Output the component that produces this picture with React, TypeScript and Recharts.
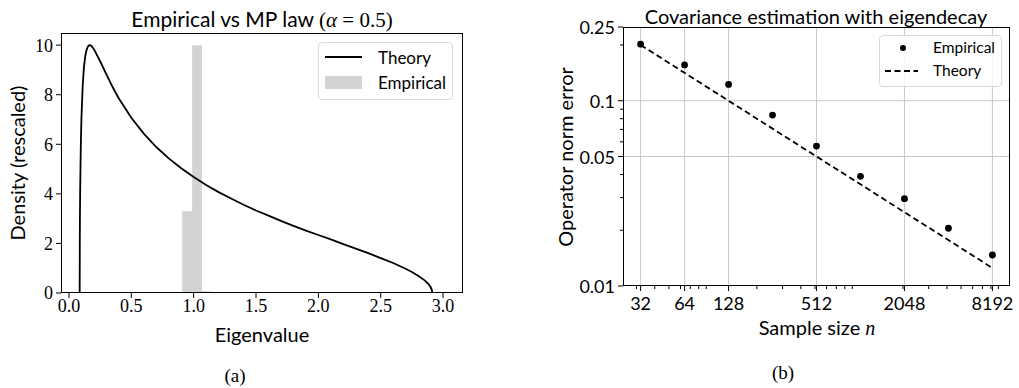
import React from 'react';
import { ComposedChart, Line, Area, XAxis, YAxis, ReferenceLine } from 'recharts';

// ---------- Panel (a): Empirical vs MP law ----------
const eigenvalues = [
  0.0858, 0.087, 0.088, 0.09, 0.095, 0.1, 0.11, 0.12, 0.13, 0.14, 0.15, 0.16, 0.17, 0.18, 0.2,
  0.25, 0.3, 0.35, 0.4, 0.5, 0.6, 0.7, 0.8, 0.9, 1.0, 1.1, 1.2, 1.3, 1.4, 1.5, 1.6, 1.7,
  1.8, 1.9, 2.0, 2.1, 2.2, 2.3, 2.4, 2.5, 2.6, 2.7, 2.75, 2.8, 2.85, 2.88, 2.9, 2.91, 2.914,
];
const densityTheory = [
  0, 2.37, 3.17, 4.28, 5.99, 7.07, 8.37, 9.11, 9.54, 9.79, 9.93, 9.99, 10.0, 9.97, 9.84,
  9.35, 8.82, 8.31, 7.85, 7.07, 6.43, 5.89, 5.43, 5.03, 4.68, 4.36, 4.07, 3.81, 3.56, 3.33, 3.12, 2.91,
  2.71, 2.52, 2.34, 2.16, 1.97, 1.79, 1.61, 1.41, 1.21, 0.98, 0.85, 0.7, 0.52, 0.38, 0.24, 0.13, 0,
];
const histEdges = [0.908, 0.988, 1.066, 1.14];
const histDensity = [3.3, 10.0, 0.07];
const xTicksA = [0, 0.5, 1, 1.5, 2, 2.5, 3];
const yTicksA = [0, 2, 4, 6, 8, 10];

// ---------- Panel (b): Covariance estimation ----------
const sampleSizes = [32, 64, 128, 256, 512, 1024, 2048, 4096, 8192];
const empiricalError = [0.202, 0.156, 0.1224, 0.0837, 0.0569, 0.0391, 0.0296, 0.0205, 0.0147];
const theoryError = [0.2, 0.1414, 0.1, 0.0707, 0.05, 0.0354, 0.025, 0.0177, 0.0125];
const xMajorB = [32, 64, 128, 512, 2048, 8192];
const xMinorB = [30, 40, 50, 60, 70, 80, 90, 200, 300, 400, 500, 600, 700, 800, 900, 2000, 3000, 4000, 5000, 6000, 7000, 8000, 9000];
const yMajorB = [0.01, 0.05, 0.1, 0.25];
const yMinorB = [0.02, 0.03, 0.04, 0.06, 0.07, 0.08, 0.09, 0.2];

const theoryDataA = eigenvalues.map((x, i) => ({ x, y: densityTheory[i] }));
const histDataA = [
  ...histDensity.map((h, i) => ({ x: histEdges[i], h })),
  { x: histEdges[histEdges.length - 1], h: histDensity[histDensity.length - 1] },
];
const dataB = sampleSizes.map((n, i) => ({ n, emp: empiricalError[i], theory: theoryError[i] }));

const SANS = 'Lato, "Liberation Sans", sans-serif';
const SERIF = '"Liberation Serif", "DejaVu Serif", serif';

const abs = (left: number, top: number, extra: React.CSSProperties = {}): React.CSSProperties => ({
  position: 'absolute',
  left,
  top,
  whiteSpace: 'nowrap',
  lineHeight: 1,
  ...extra,
});

const centered = (x: number, y: number, extra: React.CSSProperties = {}): React.CSSProperties =>
  abs(x, y, { transform: 'translate(-50%, -50%)', ...extra });

const XTickB = (props: any) => {
  const { x, y, payload } = props;
  const major = xMajorB.includes(payload.value);
  return (
    <g>
      <line x1={x} x2={x} y1={y} y2={y + (major ? 5 : 3)} stroke="#000" strokeWidth={1} />
      {major && (
        <text x={x} y={y + 17} textAnchor="middle" dominantBaseline="central" fill="#000" fontSize={18} fontFamily={SANS}>
          {payload.value}
        </text>
      )}
    </g>
  );
};

const YTickB = (props: any) => {
  const { x, y, payload } = props;
  const major = yMajorB.includes(payload.value);
  return (
    <g>
      <line x1={x - (major ? 5 : 3)} x2={x} y1={y} y2={y} stroke="#000" strokeWidth={1} />
      {major && (
        <text x={x - 8} y={y} textAnchor="end" dominantBaseline="central" fill="#000" fontSize={18} fontFamily={SANS}>
          {String(payload.value)}
        </text>
      )}
    </g>
  );
};

export default function App() {
  return (
    <div style={{ position: 'absolute', left: 0, top: 0, width: 1019, height: 388, background: '#fff', overflow: 'hidden' }}>
      {/* Panel (a) */}
      <div style={{ position: 'absolute', left: 0, top: 0 }}>
        <ComposedChart width={470} height={388} margin={{ top: 33, right: 7, left: 11, bottom: 65 }}>
          <XAxis
            dataKey="x"
            type="number"
            domain={[-0.064, 3.16]}
            allowDataOverflow
            ticks={xTicksA}
            interval={0}
            tickFormatter={(v: number) => v.toFixed(1)}
            height={30}
            tickSize={5}
            tickMargin={1}
            axisLine={false}
            tickLine={{ stroke: '#000' }}
            tick={{ fill: '#000', fontSize: 18, fontFamily: SERIF }}
          />
          <YAxis
            type="number"
            domain={[0, 10.49]}
            allowDataOverflow
            ticks={yTicksA}
            interval={0}
            width={50}
            tickSize={5}
            tickMargin={3}
            axisLine={false}
            tickLine={{ stroke: '#000' }}
            tick={{ fill: '#000', fontSize: 18, fontFamily: SERIF }}
          />
          <Area
            data={histDataA}
            dataKey="h"
            type="stepAfter"
            stroke="none"
            fill="#d3d3d3"
            fillOpacity={1}
            isAnimationActive={false}
            dot={false}
            activeDot={false}
          />
          <Line
            data={theoryDataA}
            dataKey="y"
            type="linear"
            stroke="#000"
            strokeWidth={1.8}
            dot={false}
            activeDot={false}
            isAnimationActive={false}
          />
        </ComposedChart>
      </div>
      <div style={abs(61, 33, { width: 402, height: 260, border: '1px solid #000', boxSizing: 'border-box' })} />

      {/* Panel (b) */}
      <div style={{ position: 'absolute', left: 540, top: 0 }}>
        <ComposedChart width={479} height={388} data={dataB} margin={{ top: 27, right: 9, left: 33, bottom: 72 }}>
          <XAxis
            dataKey="n"
            type="number"
            scale="log"
            domain={[24.25, 10809]}
            allowDataOverflow
            ticks={[...xMajorB, ...xMinorB].sort((a, b) => a - b)}
            interval={0}
            height={30}
            tickSize={0}
            tickMargin={0}
            axisLine={false}
            tickLine={false}
            tick={(p: any) => <XTickB {...p} />}
          />
          <YAxis
            type="number"
            scale="log"
            domain={[0.01, 0.25]}
            allowDataOverflow
            ticks={[...yMajorB, ...yMinorB].sort((a, b) => a - b)}
            interval={0}
            width={50}
            tickSize={0}
            tickMargin={0}
            axisLine={false}
            tickLine={false}
            tick={(p: any) => <YTickB {...p} />}
          />
          {xMajorB.map((v) => (
            <ReferenceLine key={'gx' + v} x={v} stroke="#c8c8c8" strokeWidth={1} />
          ))}
          {[0.05, 0.1].map((v) => (
            <ReferenceLine key={'gy' + v} y={v} stroke="#c8c8c8" strokeWidth={1} />
          ))}
          <Line
            dataKey="theory"
            type="linear"
            stroke="#000"
            strokeWidth={1.8}
            strokeDasharray="6 3.5"
            dot={false}
            activeDot={false}
            isAnimationActive={false}
          />
          <Line
            dataKey="emp"
            stroke="none"
            dot={{ r: 3.4, fill: '#000', stroke: 'none' }}
            activeDot={false}
            isAnimationActive={false}
          />
        </ComposedChart>
      </div>
      <div style={abs(623, 27, { width: 387, height: 259, border: '1px solid #000', boxSizing: 'border-box' })} />

      {/* Titles */}
      <div style={centered(262, 19, { fontFamily: SANS, fontSize: 21 })}>
        Empirical vs MP law <span style={{ fontFamily: SERIF }}>(<i>α</i> = 0.5)</span>
      </div>
      <div style={centered(816, 16, { fontFamily: SANS, fontSize: 20 })}>Covariance estimation with eigendecay</div>

      {/* Axis labels */}
      <div style={centered(262, 334, { fontFamily: SANS, fontSize: 20 })}>Eigenvalue</div>
      <div style={centered(17, 163, { fontFamily: SANS, fontSize: 20, transform: 'translate(-50%, -50%) rotate(-90deg)' })}>
        Density (rescaled)
      </div>
      <div style={centered(817, 327, { fontFamily: SANS, fontSize: 20 })}>
        Sample size <i style={{ fontFamily: SERIF }}>n</i>
      </div>
      <div style={centered(565, 157, { fontFamily: SANS, fontSize: 20, transform: 'translate(-50%, -50%) rotate(-90deg)' })}>
        Operator norm error
      </div>

      {/* Captions */}
      <div style={centered(235, 375, { fontFamily: SERIF, fontSize: 19 })}>(a)</div>
      <div style={centered(783, 372, { fontFamily: SERIF, fontSize: 19 })}>(b)</div>

      {/* Legend (a) */}
      <div style={abs(318, 42, { width: 135, height: 58, border: '1px solid #d9d9d9', borderRadius: 4, boxSizing: 'border-box', background: 'rgba(255,255,255,0.8)' })} />
      <div style={abs(325, 56, { width: 37, height: 2, background: '#000' })} />
      <div style={abs(378, 57, { transform: 'translateY(-50%)', fontFamily: SANS, fontSize: 17 })}>Theory</div>
      <div style={abs(325, 76, { width: 37, height: 13, background: '#d3d3d3' })} />
      <div style={abs(378, 82, { transform: 'translateY(-50%)', fontFamily: SANS, fontSize: 17 })}>Empirical</div>

      {/* Legend (b) */}
      <div style={abs(879, 35, { width: 123, height: 52, border: '1px solid #d9d9d9', borderRadius: 4, boxSizing: 'border-box', background: 'rgba(255,255,255,0.8)' })} />
      <div style={abs(899.6, 44.6, { width: 6.8, height: 6.8, borderRadius: '50%', background: '#000' })} />
      <div style={abs(933, 48, { transform: 'translateY(-50%)', fontFamily: SANS, fontSize: 15.5 })}>Empirical</div>
      <svg style={abs(885, 69) as React.CSSProperties} width={33} height={4}>
        <line x1={0} x2={33} y1={2} y2={2} stroke="#000" strokeWidth={1.8} strokeDasharray="6 3.5" />
      </svg>
      <div style={abs(933, 71, { transform: 'translateY(-50%)', fontFamily: SANS, fontSize: 15.5 })}>Theory</div>
    </div>
  );
}
